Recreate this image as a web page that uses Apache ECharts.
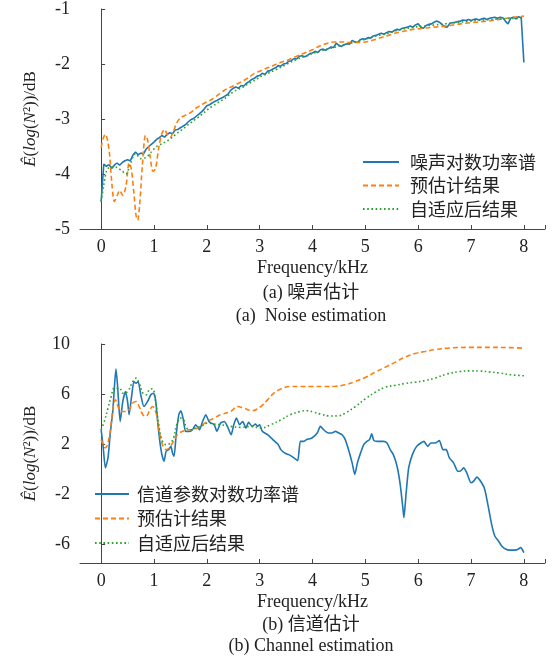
<!DOCTYPE html>
<html>
<head>
<meta charset="utf-8">
<script src="https://cdn.jsdelivr.net/npm/echarts@6/dist/echarts.min.js"></script>
<style>
  html, body { margin: 0; padding: 0; background: #fff; }
  #chart { width: 559px; height: 660px; }
</style>
</head>
<body>
<div id="chart"></div>
<script>
// 横轴刻度
const freqTicks = [0, 1, 2, 3, 4, 5, 6, 7, 8];
const chanTicks = [-6, -2, 2, 6, 10];

// (a) 噪声估计 - 噪声对数功率谱, 步长 0.05 kHz
const noiseStep = 0.05;
const noiseSpec = [
    -4.50, -3.82, -3.86, -3.83, -3.90, -3.84, -3.80, -3.84, -3.79, -3.76,
    -3.74, -3.76, -3.66, -3.60, -3.65, -3.62, -3.64, -3.55, -3.50, -3.46,
    -3.42, -3.37, -3.34, -3.30, -3.33, -3.28, -3.25, -3.27, -3.20, -3.19,
    -3.16, -3.13, -3.10, -3.05, -3.01, -2.99, -2.95, -2.91, -2.87, -2.82,
    -2.76, -2.74, -2.71, -2.68, -2.66, -2.63, -2.61, -2.58, -2.55, -2.48,
    -2.44, -2.42, -2.44, -2.39, -2.40, -2.35, -2.32, -2.28, -2.26, -2.22,
    -2.21, -2.17, -2.19, -2.13, -2.12, -2.09, -2.07, -2.03, -2.04, -2.00,
    -1.99, -1.95, -1.94, -1.90, -1.91, -1.86, -1.85, -1.87, -1.85, -1.81,
    -1.80, -1.77, -1.79, -1.74, -1.73, -1.75, -1.72, -1.69, -1.70, -1.62,
    -1.66, -1.68, -1.65, -1.63, -1.64, -1.57, -1.60, -1.61, -1.56, -1.54,
    -1.55, -1.52, -1.53, -1.49, -1.48, -1.46, -1.44, -1.46, -1.43, -1.41,
    -1.42, -1.39, -1.37, -1.38, -1.35, -1.34, -1.33, -1.31, -1.33, -1.29,
    -1.27, -1.33, -1.35, -1.30, -1.28, -1.27, -1.24, -1.22, -1.24, -1.28,
    -1.32, -1.33, -1.26, -1.25, -1.24, -1.23, -1.22, -1.20, -1.21, -1.19,
    -1.21, -1.19, -1.18, -1.20, -1.18, -1.17, -1.19, -1.17, -1.16, -1.15,
    -1.17, -1.15, -1.16, -1.22, -1.27, -1.17, -1.15, -1.18, -1.14, -1.16,
    -1.97
];

// 预估计结果
const noisePreFreq = [0, 0.04, 0.08, 0.12, 0.16, 0.21, 0.25, 0.30, 0.35, 0.41, 0.47, 0.53, 0.57, 0.62, 0.66, 0.69, 0.73, 0.78, 0.84, 0.88, 0.93, 0.98, 1.03, 1.09, 1.15, 1.20, 1.25, 1.31, 1.37, 1.43, 1.5, 1.6, 1.7, 1.8, 1.9, 2.0, 2.1, 2.2, 2.3, 2.4, 2.5, 2.6, 2.7, 2.8, 2.9, 3.0, 3.1, 3.2, 3.3, 3.4, 3.5, 3.6, 3.7, 3.8, 3.9, 4.0, 4.1, 4.2, 4.3, 4.4, 4.5, 4.6, 4.7, 4.8, 4.9, 5.0, 5.1, 5.2, 5.3, 5.4, 5.5, 5.6, 5.7, 5.8, 5.9, 6.0, 6.2, 6.4, 6.6, 6.8, 7.0, 7.2, 7.4, 7.6, 7.8, 8.0];
const noisePre = [-3.52, -3.35, -3.28, -3.38, -3.65, -4.25, -4.50, -4.40, -4.30, -4.39, -4.22, -3.80, -3.90, -4.35, -4.75, -4.84, -4.55, -3.85, -3.30, -3.38, -3.70, -3.95, -3.90, -3.52, -3.26, -3.19, -3.28, -3.33, -3.22, -3.07, -2.98, -2.93, -2.88, -2.80, -2.74, -2.69, -2.64, -2.57, -2.50, -2.44, -2.40, -2.35, -2.30, -2.24, -2.17, -2.13, -2.09, -2.05, -2.01, -1.97, -1.94, -1.90, -1.86, -1.82, -1.78, -1.74, -1.69, -1.65, -1.62, -1.60, -1.60, -1.60, -1.61, -1.61, -1.61, -1.60, -1.58, -1.55, -1.52, -1.49, -1.46, -1.43, -1.41, -1.39, -1.37, -1.36, -1.34, -1.32, -1.30, -1.27, -1.25, -1.23, -1.21, -1.18, -1.15, -1.13];

// 自适应后结果
const noiseAdaFreq = [0, 0.05, 0.1, 0.15, 0.2, 0.3, 0.4, 0.47, 0.55, 0.65, 0.75, 0.85, 0.95, 1.05, 1.15, 1.25, 1.35, 1.45, 1.55, 1.65, 1.75, 1.85, 1.95, 2.05, 2.15, 2.25, 2.35, 2.45, 2.55, 2.65, 2.75, 2.9, 3.0, 3.2, 3.4, 3.6, 3.8, 4.0, 4.2, 4.4, 4.6, 4.8, 5.0, 5.2, 5.4, 5.6, 5.8, 6.0, 6.2, 6.4, 6.6, 6.8, 7.0, 7.2, 7.4, 7.6, 7.8, 8.0];
const noiseAda = [-4.50, -4.20, -3.95, -3.88, -3.87, -3.88, -3.95, -4.00, -3.82, -3.63, -3.72, -3.70, -3.60, -3.50, -3.45, -3.40, -3.33, -3.25, -3.18, -3.10, -3.03, -2.96, -2.88, -2.80, -2.74, -2.68, -2.62, -2.54, -2.48, -2.44, -2.38, -2.30, -2.24, -2.15, -2.06, -1.96, -1.88, -1.81, -1.75, -1.70, -1.65, -1.60, -1.55, -1.49, -1.45, -1.39, -1.35, -1.32, -1.30, -1.28, -1.26, -1.24, -1.22, -1.20, -1.19, -1.18, -1.17, -1.17];

// (b) 信道估计 - 信道参数对数功率谱
const chanFreq = [0, 0.04, 0.08, 0.13, 0.17, 0.22, 0.25, 0.28, 0.31, 0.36, 0.41, 0.46, 0.50, 0.53, 0.58, 0.62, 0.66, 0.70, 0.75, 0.81, 0.88, 0.94, 0.99, 1.03, 1.07, 1.11, 1.15, 1.19, 1.23, 1.28, 1.32, 1.35, 1.38, 1.42, 1.47, 1.51, 1.55, 1.60, 1.67, 1.73, 1.79, 1.86, 1.92, 1.98, 2.04, 2.08, 2.14, 2.19, 2.26, 2.33, 2.39, 2.46, 2.51, 2.56, 2.62, 2.68, 2.74, 2.79, 2.86, 2.92, 2.96, 3.00, 3.05, 3.15, 3.25, 3.35, 3.40, 3.47, 3.55, 3.65, 3.72, 3.77, 3.83, 3.89, 3.99, 4.09, 4.15, 4.21, 4.30, 4.37, 4.43, 4.50, 4.56, 4.62, 4.69, 4.75, 4.80, 4.85, 4.91, 4.97, 5.03, 5.08, 5.12, 5.16, 5.23, 5.34, 5.41, 5.47, 5.53, 5.60, 5.66, 5.71, 5.73, 5.77, 5.82, 5.89, 5.97, 6.05, 6.11, 6.18, 6.24, 6.32, 6.40, 6.47, 6.53, 6.59, 6.67, 6.75, 6.79, 6.86, 6.92, 7.00, 7.05, 7.11, 7.20, 7.26, 7.33, 7.39, 7.45, 7.52, 7.58, 7.66, 7.74, 7.83, 7.89, 7.94, 8.00];
const chanSpec = [3.15, 1.70, 0.10, 0.90, 2.75, 4.61, 6.47, 8.00, 6.74, 3.81, 5.41, 6.20, 5.41, 4.35, 5.94, 7.00, 6.87, 7.00, 5.94, 5.00, 5.41, 5.94, 6.07, 5.54, 3.81, 2.22, 1.16, 0.63, 1.43, 1.56, 1.82, 1.30, 1.03, 2.75, 4.35, 4.67, 4.08, 3.02, 3.02, 3.15, 3.55, 3.15, 3.81, 4.35, 3.81, 3.68, 3.55, 3.02, 3.68, 3.81, 3.42, 2.75, 3.55, 4.08, 3.55, 3.81, 3.28, 3.74, 3.42, 3.60, 3.42, 3.55, 3.02, 2.75, 2.36, 1.96, 1.56, 1.30, 1.16, 0.90, 0.68, 2.22, 2.22, 2.36, 2.49, 2.89, 3.42, 3.15, 2.89, 2.89, 3.02, 2.89, 2.75, 2.36, 1.43, 0.50, -0.43, 0.50, 1.30, 1.96, 2.22, 2.36, 2.83, 2.30, 2.22, 2.22, 2.09, 1.56, 1.16, 0.23, -1.23, -3.08, -3.88, -2.02, 0.10, 1.16, 1.82, 2.09, 2.22, 1.82, 2.09, 2.09, 2.28, 1.56, 1.56, 0.90, 0.50, -0.17, -0.17, 0.10, -0.30, -1.09, -0.96, -0.64, -1.09, -1.62, -3.08, -4.41, -5.34, -5.74, -6.14, -6.40, -6.47, -6.47, -6.40, -6.27, -6.67];

const chanPreFreq = [0, 0.08, 0.15, 0.21, 0.27, 0.32, 0.38, 0.47, 0.53, 0.60, 0.66, 0.72, 0.79, 0.85, 0.91, 0.97, 1.04, 1.10, 1.16, 1.23, 1.29, 1.35, 1.42, 1.48, 1.54, 1.64, 1.73, 1.82, 1.92, 2.01, 2.14, 2.26, 2.45, 2.58, 2.70, 2.86, 3.02, 3.15, 3.27, 3.40, 3.58, 3.77, 4.0, 4.2, 4.43, 4.62, 4.81, 5.0, 5.19, 5.38, 5.57, 5.75, 5.94, 6.13, 6.32, 6.6, 6.98, 7.36, 7.74, 8.0];
const chanPre = [2.36, 1.70, 2.49, 4.35, 5.54, 5.00, 4.61, 4.61, 4.74, 5.28, 5.41, 5.00, 4.35, 4.22, 4.61, 5.00, 4.48, 3.02, 1.96, 1.56, 1.70, 2.09, 2.62, 2.89, 3.02, 3.15, 3.15, 3.28, 3.55, 3.81, 4.08, 4.35, 4.61, 5.00, 4.87, 4.67, 5.00, 5.54, 6.07, 6.40, 6.60, 6.60, 6.60, 6.60, 6.62, 6.74, 7.00, 7.33, 7.75, 8.15, 8.55, 8.95, 9.24, 9.40, 9.55, 9.68, 9.73, 9.73, 9.71, 9.66];

const chanAdaFreq = [0, 0.06, 0.13, 0.19, 0.25, 0.35, 0.41, 0.50, 0.60, 0.66, 0.72, 0.79, 0.85, 0.91, 0.97, 1.03, 1.09, 1.16, 1.23, 1.31, 1.37, 1.43, 1.50, 1.56, 1.62, 1.70, 1.79, 1.89, 2.01, 2.14, 2.26, 2.45, 2.64, 2.83, 3.02, 3.21, 3.40, 3.58, 3.77, 3.89, 4.02, 4.15, 4.34, 4.50, 4.62, 4.81, 5.0, 5.19, 5.38, 5.57, 5.75, 5.94, 6.13, 6.32, 6.54, 6.79, 6.98, 7.17, 7.36, 7.55, 7.74, 8.0];
const chanAda = [3.15, 3.81, 4.88, 5.80, 6.47, 6.47, 6.07, 6.20, 7.00, 7.27, 6.87, 6.07, 5.94, 6.34, 6.42, 5.41, 3.55, 2.22, 1.96, 2.09, 2.49, 3.55, 4.08, 3.94, 3.28, 3.15, 3.28, 3.42, 3.68, 3.60, 3.55, 3.42, 3.34, 3.42, 3.28, 3.55, 3.94, 4.35, 4.61, 4.67, 4.56, 4.40, 4.25, 4.27, 4.48, 5.00, 5.62, 6.15, 6.55, 6.70, 6.85, 6.95, 7.08, 7.28, 7.60, 7.80, 7.85, 7.84, 7.76, 7.68, 7.55, 7.46];

// 组合成 [x, y]
function pairs(xs, ys) {
    return ys.map(function (v, i) { return [xs[i], v]; });
}
const noiseSpecFreq = noiseSpec.map(function (v, i) { return +(i * noiseStep).toFixed(2); });

const serif = 'Liberation Serif';
const cjk = 'Noto Sans CJK SC';
const axisColor = '#444';
const textColor = '#222';
const blue = '#1f77b4';
const orange = '#ff7f0e';
const green = '#2ca02c';

function xAxisOpt(gridIndex) {
    return {
        type: 'value',
        gridIndex: gridIndex,
        min: -0.4,
        max: 8.4,
        name: 'Frequency/kHz',
        nameLocation: 'middle',
        nameGap: 30,
        nameTextStyle: { fontFamily: serif, fontSize: 18, color: textColor },
        axisLine: { onZero: false, lineStyle: { color: axisColor, width: 1 } },
        axisTick: { inside: true, length: 4, customValues: freqTicks.concat([8.4]), lineStyle: { color: axisColor } },
        axisLabel: { customValues: freqTicks, margin: 9, fontFamily: serif, fontSize: 18, color: textColor },
        splitLine: { show: false }
    };
}

function yName() {
    return '{i|Ê}{r|(}{i|log}{r|(}{i|N}{r|²))/dB}';
}
const yNameRich = {
    i: { fontFamily: serif, fontStyle: 'italic', fontSize: 17, color: textColor },
    r: { fontFamily: serif, fontSize: 17, color: textColor }
};

const lineBase = { type: 'line', symbol: 'none', animation: false };

// 图例: 只画线, 不画符号
const legendBase = {
    orient: 'vertical',
    itemHeight: 14,
    selectedMode: false,
    itemStyle: { opacity: 0 },
    textStyle: { fontFamily: cjk, fontSize: 18, color: textColor }
};

const option = {
    animation: false,
    backgroundColor: '#fff',
    grid: [
        { left: 80, top: 6, width: 465, height: 223 },
        { left: 80, top: 344, width: 465, height: 219 }
    ],
    xAxis: [xAxisOpt(0), xAxisOpt(1)],
    yAxis: [
        {
            type: 'value', gridIndex: 0, min: -5, max: -1, interval: 1,
            name: yName(), nameLocation: 'middle', nameRotate: 90, nameGap: 41,
            nameTextStyle: { rich: yNameRich },
            axisLine: { show: true, lineStyle: { color: axisColor, width: 1 } },
            axisTick: { show: true, inside: true, length: 4, lineStyle: { color: axisColor } },
            axisLabel: { margin: 10, fontFamily: serif, fontSize: 18, color: textColor },
            splitLine: { show: false }
        },
        {
            type: 'value', gridIndex: 1, min: -7.5, max: 10,
            name: yName(), nameLocation: 'middle', nameRotate: 90, nameGap: 41,
            nameTextStyle: { rich: yNameRich },
            axisLine: { show: true, lineStyle: { color: axisColor, width: 1 } },
            axisTick: { show: true, inside: true, length: 4, customValues: chanTicks, lineStyle: { color: axisColor } },
            axisLabel: { customValues: chanTicks, margin: 10, fontFamily: serif, fontSize: 18, color: textColor },
            splitLine: { show: false }
        }
    ],
    legend: [
        Object.assign({}, legendBase, {
            data: ['噪声对数功率谱', '预估计结果', '自适应后结果'],
            left: 357, top: 148, itemWidth: 36, itemGap: 5.5,
            textStyle: Object.assign({}, legendBase.textStyle, { padding: [0, 0, 0, 6] })
        }),
        Object.assign({}, legendBase, {
            data: ['信道参数对数功率谱', '预估计结果', '自适应后结果'],
            left: 89, top: 480, itemWidth: 34, itemGap: 6.5,
            textStyle: Object.assign({}, legendBase.textStyle, { padding: [0, 0, 0, 3] })
        })
    ],
    graphic: [
        { type: 'text', x: 311, y: 293, style: { text: '(a) 噪声估计', align: 'center', verticalAlign: 'middle', font: '18px "Liberation Serif", "Noto Sans CJK SC"', fill: textColor } },
        { type: 'text', x: 311, y: 316, style: { text: '(a)  Noise estimation', align: 'center', verticalAlign: 'middle', font: '18px "Liberation Serif"', fill: textColor } },
        { type: 'text', x: 311, y: 625, style: { text: '(b) 信道估计', align: 'center', verticalAlign: 'middle', font: '18px "Liberation Serif", "Noto Sans CJK SC"', fill: textColor } },
        { type: 'text', x: 311, y: 646, style: { text: '(b) Channel estimation', align: 'center', verticalAlign: 'middle', font: '18px "Liberation Serif"', fill: textColor } }
    ],
    series: [
        Object.assign({}, lineBase, {
            name: '噪声对数功率谱', xAxisIndex: 0, yAxisIndex: 0,
            lineStyle: { color: blue, width: 1.6 }, itemStyle: { color: blue },
            data: pairs(noiseSpecFreq, noiseSpec)
        }),
        Object.assign({}, lineBase, {
            name: '预估计结果', xAxisIndex: 0, yAxisIndex: 0, smooth: 0.3,
            lineStyle: { color: orange, width: 1.6, type: [5, 3] }, itemStyle: { color: orange },
            data: pairs(noisePreFreq, noisePre)
        }),
        Object.assign({}, lineBase, {
            name: '自适应后结果', xAxisIndex: 0, yAxisIndex: 0, smooth: 0.3,
            lineStyle: { color: green, width: 1.6, type: [1.6, 2.6] }, itemStyle: { color: green },
            data: pairs(noiseAdaFreq, noiseAda)
        }),
        Object.assign({}, lineBase, {
            name: '信道参数对数功率谱', xAxisIndex: 1, yAxisIndex: 1, smooth: 0.2,
            lineStyle: { color: blue, width: 1.6 }, itemStyle: { color: blue },
            data: pairs(chanFreq, chanSpec)
        }),
        Object.assign({}, lineBase, {
            name: '预估计结果', xAxisIndex: 1, yAxisIndex: 1, smooth: 0.4,
            lineStyle: { color: orange, width: 1.6, type: [5, 3] }, itemStyle: { color: orange },
            data: pairs(chanPreFreq, chanPre)
        }),
        Object.assign({}, lineBase, {
            name: '自适应后结果', xAxisIndex: 1, yAxisIndex: 1, smooth: 0.4,
            lineStyle: { color: green, width: 1.6, type: [1.6, 2.6] }, itemStyle: { color: green },
            data: pairs(chanAdaFreq, chanAda)
        })
    ]
};

const chart = echarts.init(document.getElementById('chart'), null, { renderer: 'canvas' });
chart.setOption(option);
</script>
</body>
</html>
